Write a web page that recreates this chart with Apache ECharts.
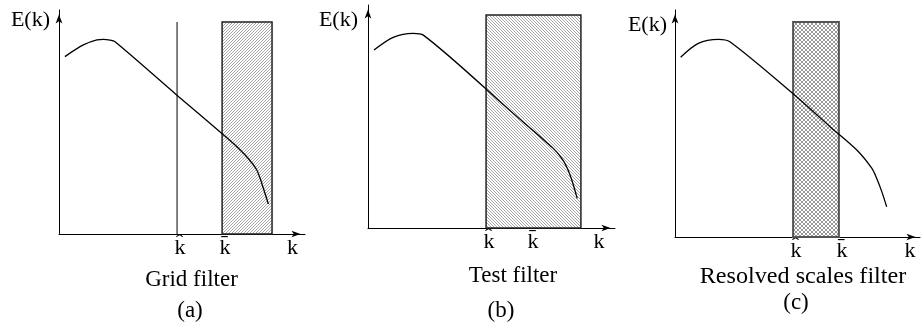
<!DOCTYPE html>
<html>
<head>
<meta charset="utf-8">
<script src="https://cdn.jsdelivr.net/npm/echarts@6/dist/echarts.min.js"></script>
<style>
  html, body { margin: 0; padding: 0; background: #fff; }
  #chart { width: 921px; height: 324px; }
</style>
</head>
<body>
<div id="chart"></div>
<script>
// Sketch of the energy spectrum E(k) and the three LES filters.
// Units are arbitrary: k from 0 to 10 along each panel's axis, E from 0 to 10.

// (a) grid filter
const kA = [0.24, 0.99, 1.54, 1.80, 2.07, 2.28, 4.78, 6.61, 7.07, 7.63, 8.04, 8.29, 8.51];
const eA = [7.92, 8.44, 8.67, 8.69, 8.66, 8.58, 6.21, 4.50, 4.06, 3.45, 2.86, 2.10, 1.34];
const lineA = [4.80, 9.46];              // k-hat cut: position, height
const boxA = [6.63, 8.66, 9.46];         // shaded band: from, to, height
const tickA = [4.80, 6.63];

// (b) test filter
const kB = [0.24, 1.02, 1.83, 2.24, 5.88, 7.50, 7.84, 8.07, 8.25, 8.47];
const eB = [7.98, 8.55, 8.73, 8.65, 5.14, 3.57, 3.13, 2.68, 2.15, 1.33];
const boxB = [4.78, 8.62, 9.55];
const tickB = [4.78, 6.56];

// (c) resolved scales filter
const kC = [0.23, 0.95, 1.77, 2.24, 4.83, 6.33, 7.42, 8.03, 8.23, 8.44, 8.64];
const eC = [7.92, 8.53, 8.71, 8.60, 6.30, 4.86, 3.83, 3.03, 2.59, 2.00, 1.33];
const boxC = [4.82, 6.69, 9.47];
const tickC = [4.82, 6.69];

const tickNames = ['k\u0302', 'k\u0304'];
const axisNameX = 'k';
const axisNameY = 'E(k)';
const captions = ['Grid filter', 'Test filter', 'Resolved scales filter'];
const tags = ['(a)', '(b)', '(c)'];

const FONT = '"Liberation Serif", "Times New Roman", serif';

function hatch(kind, color) {
  const n = kind === 'cross' ? 4 : 3;
  const c = document.createElement('canvas');
  c.width = n; c.height = n;
  const ctx = c.getContext('2d');
  ctx.fillStyle = '#fff';
  ctx.fillRect(0, 0, n, n);
  ctx.fillStyle = color;
  for (let i = 0; i < n; i++) {
    if (kind === 'fwd' || kind === 'cross') ctx.fillRect(i, n - 1 - i, 1, 1);
    if (kind === 'back' || kind === 'cross') ctx.fillRect(i, i, 1, 1);
  }
  return { image: c, repeat: 'repeat' };
}

const zip = (xs, ys) => xs.map((x, i) => [x, ys[i]]);

const panels = [
  { grid: { left: 59, top: 10, width: 246, height: 224 }, k: kA, e: eA, box: boxA, ticks: tickA,
    fill: hatch('fwd', '#a6a6a6'), edge: '#222', edgeW: 1.5,
    xGap: -12.5, xPad: 3, yGap: 1, yPad: 9 },
  { grid: { left: 368, top: 5, width: 247, height: 223 }, k: kB, e: eB, box: boxB, ticks: tickB,
    fill: hatch('back', '#a6a6a6'), edge: '#222', edgeW: 1.5,
    xGap: -16, xPad: 3, yGap: -4, yPad: 10 },
  { grid: { left: 675, top: 10, width: 245, height: 227 }, k: kC, e: eC, box: boxC, ticks: tickC,
    fill: hatch('cross', '#999'), edge: '#555', edgeW: 2,
    xGap: -10, xPad: 3, yGap: -4, yPad: 8 }
];

const arrowLine = {
  show: true,
  lineStyle: { color: '#000', width: 1 },
  symbol: ['none', 'arrow'],
  symbolSize: [5, 9],
  symbolOffset: [0, -4.5]
};

const grids = [], xAxes = [], yAxes = [], series = [];

panels.forEach((p, i) => {
  grids.push(Object.assign({ outerBoundsMode: 'none', containLabel: false }, p.grid));

  xAxes.push({
    gridIndex: i, type: 'value', min: 0, max: 10,
    name: axisNameX, nameLocation: 'end', nameGap: p.xGap, nameMoveOverlap: false,
    nameTextStyle: { fontFamily: FONT, fontSize: 22, color: '#000', align: 'center',
                     verticalAlign: 'top', padding: [p.xPad, 0, 0, 0] },
    axisLine: arrowLine,
    axisTick: { show: false },
    splitLine: { show: false },
    axisLabel: {
      show: true, margin: 3, hideOverlap: false,
      customValues: p.ticks,
      formatter: v => tickNames[p.ticks.indexOf(v)] || '',
      fontFamily: FONT, fontSize: 22, color: '#000',
      padding: [0, 0, 0, 6]
    }
  });

  yAxes.push({
    gridIndex: i, type: 'value', min: 0, max: 10,
    name: axisNameY, nameLocation: 'end', nameGap: p.yGap, nameMoveOverlap: false,
    nameTextStyle: { fontFamily: FONT, fontSize: 22, color: '#000', align: 'right',
                     verticalAlign: 'top', padding: [0, p.yPad, 0, 0] },
    axisLine: arrowLine,
    axisTick: { show: false },
    splitLine: { show: false },
    axisLabel: { show: false }
  });

  // shaded filter band
  series.push({
    type: 'custom', xAxisIndex: i, yAxisIndex: i, z: 1, silent: true,
    data: [p.box],
    encode: { x: [0, 1], y: 2 },
    renderItem: (params, api) => {
      const a = api.coord([api.value(0), api.value(2)]);
      const b = api.coord([api.value(1), 0]);
      return {
        type: 'rect',
        shape: { x: a[0], y: a[1], width: b[0] - a[0], height: b[1] - a[1] },
        style: { fill: p.fill, stroke: p.edge, lineWidth: p.edgeW }
      };
    }
  });

  // spectrum curve
  series.push({
    type: 'line', xAxisIndex: i, yAxisIndex: i, z: 5, silent: true,
    data: zip(p.k, p.e), smooth: 0.3, showSymbol: false, symbol: 'none',
    lineStyle: { color: '#000', width: 1.3 }
  });
});

// grid-filter cut in panel (a)
series.push({
  type: 'line', xAxisIndex: 0, yAxisIndex: 0, z: 3, silent: true,
  data: [[lineA[0], 0], [lineA[0], lineA[1]]], showSymbol: false, symbol: 'none',
  lineStyle: { color: '#555', width: 1.5 }
});

// caption anchors and horizontal stretch of each caption
const capPos = [[191.5, 279.5], [513, 276], [803, 276.5]];
const capScale = [1, 1, 1.05];
const tagPos = [[190, 310.5], [501, 310.5], [796, 303]];
const graphic = [];
const textEl = (t, pos, sx) => ({
  type: 'text', silent: true, x: pos[0], y: pos[1], scaleX: sx, scaleY: 1,
  style: { text: t, x: 0, y: 0, font: '23px ' + FONT, fill: '#000',
           align: 'center', verticalAlign: 'middle', textAlign: 'center', textVerticalAlign: 'middle' }
});
captions.forEach((t, i) => {
  graphic.push(textEl(t, capPos[i], capScale[i]));
  graphic.push(textEl(tags[i], tagPos[i], 1));
});

const chart = echarts.init(document.getElementById('chart'), null, { renderer: 'canvas' });
chart.setOption({
  animation: false,
  backgroundColor: '#fff',
  grid: grids,
  xAxis: xAxes,
  yAxis: yAxes,
  series: series,
  graphic: graphic
});
</script>
</body>
</html>
